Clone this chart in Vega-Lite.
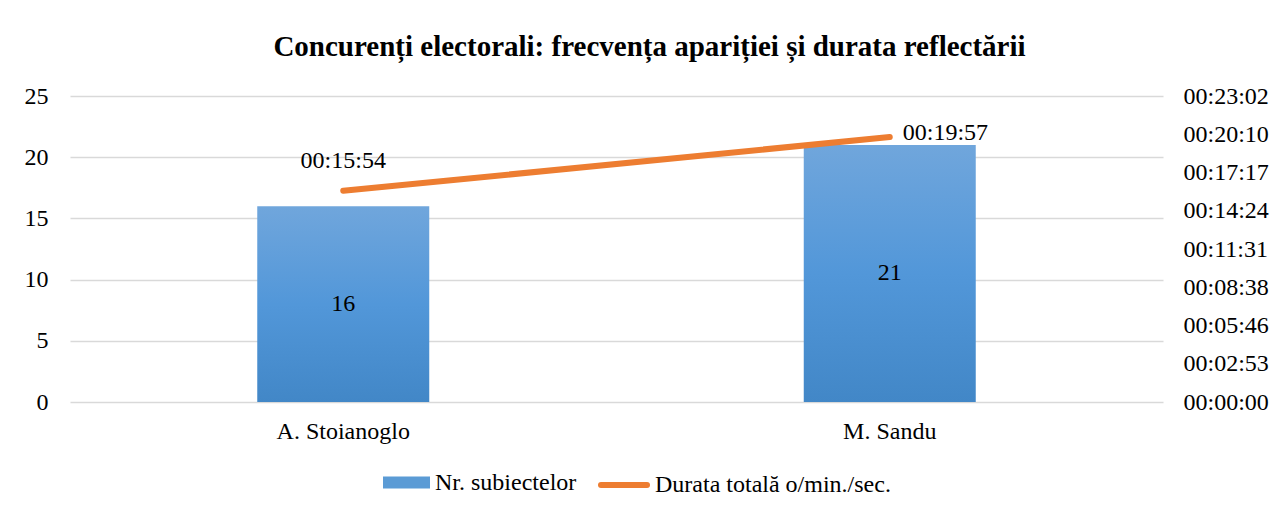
{
  "$schema": "https://vega.github.io/schema/vega-lite/v6.json",
  "width": 1093,
  "height": 306,
  "autosize": "none",
  "padding": {"left": 70, "top": 96, "right": 114, "bottom": 108},
  "background": "white",
  "title": {
    "text": "Concurenți electorali: frecvența apariției și durata reflectării",
    "font": "Liberation Serif",
    "fontSize": 29,
    "fontWeight": "bold",
    "color": "#000000",
    "offset": 22,
    "dx": 33
  },
  "data": {
    "values": [
      {"candidat": "A. Stoianoglo", "subiecte": 16, "secunde": 954, "durata": "00:15:54"},
      {"candidat": "M. Sandu", "subiecte": 21, "secunde": 1197, "durata": "00:19:57"}
    ]
  },
  "encoding": {
    "x": {
      "field": "candidat",
      "type": "nominal",
      "sort": null,
      "scale": {"paddingInner": 0, "paddingOuter": 0},
      "axis": {
        "title": null,
        "labelAngle": 0,
        "domain": false,
        "ticks": false,
        "labelFont": "Liberation Serif",
        "labelFontSize": 24,
        "labelColor": "#000000",
        "labelPadding": 17
      }
    }
  },
  "layer": [
    {
      "mark": {
        "type": "bar",
        "size": 172,
        "fill": {"gradient": "linear", "x1": 0, "y1": 0, "x2": 0, "y2": 1,
                 "stops": [{"offset": 0, "color": "#70A6DC"}, {"offset": 0.5, "color": "#5297D9"}, {"offset": 1, "color": "#4287C7"}]}
      },
      "encoding": {
        "y": {
          "field": "subiecte",
          "type": "quantitative",
          "scale": {"domain": [0, 25], "nice": false},
          "axis": {
            "title": null,
            "values": [0, 5, 10, 15, 20, 25],
            "domain": false,
            "ticks": false,
            "grid": true,
            "gridColor": "#D9D9D9",
            "gridWidth": 1.5,
            "labelFont": "Liberation Serif",
            "labelFontSize": 24,
            "labelColor": "#000000",
            "labelPadding": 22
          }
        }
      }
    },
    {
      "mark": {"type": "point", "filled": true, "size": 0, "opacity": 0},
      "encoding": {
        "y": {"field": "subiecte", "type": "quantitative", "scale": {"domain": [0, 25], "nice": false}, "axis": null},
        "fill": {
          "datum": "Nr. subiectelor",
          "scale": {"domain": ["Nr. subiectelor"], "range": ["#5B9BD5"]},
          "legend": {
            "orient": "none",
            "legendX": 313,
            "legendY": 363,
            "title": null,
            "padding": 0,
            "symbolType": "M-1,-0.26H1V0.26H-1Z",
            "symbolSize": 2209,
            "symbolOpacity": 1,
            "symbolStrokeWidth": 0,
            "labelOffset": 5,
            "labelLimit": 0,
            "labelFont": "Liberation Serif",
            "labelFontSize": 24,
            "labelColor": "#000000",
            "encode": {"symbols": {"update": {"fill": {"value": {"gradient": "linear", "x1": 0, "y1": 0, "x2": 0, "y2": 1,
                 "stops": [{"offset": 0, "color": "#70A6DC"}, {"offset": 1, "color": "#4287C7"}]}}, "opacity": {"value": 1}}}}
          }
        }
      }
    },
    {
      "mark": {"type": "line", "strokeWidth": 6, "strokeCap": "round"},
      "encoding": {
        "y": {
          "field": "secunde",
          "type": "quantitative",
          "scale": {"domain": [0, 1382.4], "nice": false},
          "axis": {
            "orient": "right",
            "title": null,
            "values": [0, 172.8, 345.6, 518.4, 691.2, 864, 1036.8, 1209.6, 1382.4],
            "labelExpr": "utcFormat(round(datum.value) * 1000, '%H:%M:%S')",
            "domain": false,
            "ticks": false,
            "grid": false,
            "labelFont": "Liberation Serif",
            "labelFontSize": 24,
            "labelColor": "#000000",
            "labelPadding": 20
          }
        },
        "stroke": {
          "datum": "Durata totală o/min./sec.",
          "scale": {"domain": ["Durata totală o/min./sec."], "range": ["#ED7D31"]},
          "legend": {
            "orient": "none",
            "legendX": 528,
            "legendY": 363,
            "title": null,
            "padding": 0,
            "symbolType": "stroke",
            "symbolSize": 2116,
            "symbolStrokeWidth": 6,
            "labelOffset": 5,
            "labelLimit": 0,
            "labelFont": "Liberation Serif",
            "labelFontSize": 24,
            "labelColor": "#000000",
            "encode": {"symbols": {"update": {"strokeCap": {"value": "round"}}}}
          }
        }
      }
    },
    {
      "mark": {"type": "text", "font": "Liberation Serif", "fontSize": 24, "color": "#000000", "baseline": "middle"},
      "encoding": {
        "y": {"field": "subiecte", "type": "quantitative", "scale": {"domain": [0, 50], "nice": false}, "axis": null},
        "text": {"field": "subiecte", "type": "quantitative"}
      }
    },
    {
      "transform": [{"filter": "datum.candidat === 'A. Stoianoglo'"}],
      "mark": {"type": "text", "font": "Liberation Serif", "fontSize": 24, "color": "#000000", "baseline": "middle", "align": "center", "dy": -30},
      "encoding": {
        "y": {"field": "secunde", "type": "quantitative", "scale": {"domain": [0, 1382.4], "nice": false}, "axis": null},
        "text": {"field": "durata", "type": "nominal"}
      }
    },
    {
      "transform": [{"filter": "datum.candidat === 'M. Sandu'"}],
      "mark": {"type": "text", "font": "Liberation Serif", "fontSize": 24, "color": "#000000", "baseline": "middle", "align": "left", "dx": 13, "dy": -4},
      "encoding": {
        "y": {"field": "secunde", "type": "quantitative", "scale": {"domain": [0, 1382.4], "nice": false}, "axis": null},
        "text": {"field": "durata", "type": "nominal"}
      }
    }
  ],
  "resolve": {"scale": {"y": "independent", "fill": "independent", "stroke": "independent"}},
  "config": {"view": {"stroke": null}}
}
